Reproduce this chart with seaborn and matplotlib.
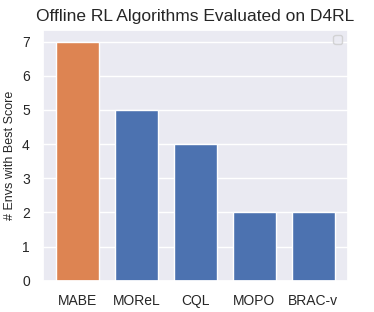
import matplotlib
matplotlib.use("Agg")
import matplotlib.pyplot as plt
import seaborn as sns
import pandas as pd

algoritmos = ["MABE", "MOReL", "CQL", "MOPO", "BRAC-v"]
mejores = [7, 5, 4, 2, 2]
colores = ["#DD8452", "#4C72B0", "#4C72B0", "#4C72B0", "#4C72B0"]

sns.set_theme(style="darkgrid")
plt.rcParams["font.family"] = ["Liberation Sans", "DejaVu Sans"]

datos = pd.DataFrame({"algoritmo": algoritmos, "envs": mejores})

fig, ax = plt.subplots(figsize=(3.74, 3.12), dpi=100)
sns.barplot(data=datos, x="algoritmo", y="envs", hue="algoritmo",
            palette=colores, width=0.72, saturation=1, legend=False, ax=ax)
ax.set_xlim(-0.585, 4.585)
ax.set_ylim(0, 7.35)
ax.set_title("Offline RL Algorithms Evaluated on D4RL", fontsize=12.5)
ax.set_ylabel("# Envs with Best Score", fontsize=9)
ax.set_xlabel("")
ax.tick_params(labelsize=10)
ax.legend(handles=[], loc="upper right", fontsize=8)
plt.subplots_adjust(left=0.115, right=0.93, top=0.905, bottom=0.1)
plt.savefig("out.png", dpi=100)
